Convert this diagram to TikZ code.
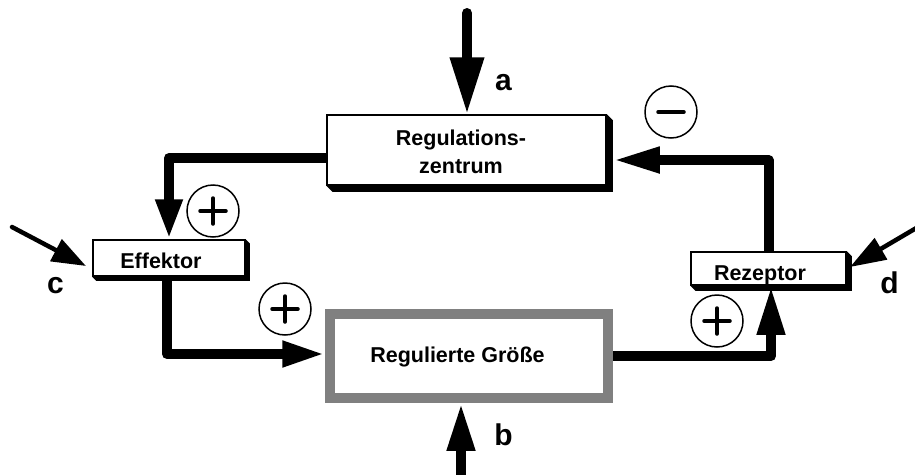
\documentclass[tikz,border=0pt]{standalone}
\usepackage{fontspec}
\setmainfont{Liberation Sans}
\usetikzlibrary{arrows.meta,calc,backgrounds}
\definecolor{rgray}{RGB}{128,128,128}
\begin{document}
\begin{tikzpicture}[x=1pt,y=-1pt,
  box/.style={draw=black, line width=1.5pt, fill=white, inner sep=0pt},
  txt/.style={font=\fontsize{21.5}{27.5}\selectfont\bfseries, inner sep=0pt, align=center},
  lbl/.style={font=\fontsize{30}{30}\selectfont\bfseries, inner sep=0pt, anchor=base},
  conn/.style={line width=10pt, line cap=round, line join=round},
  thinarrow/.style={line width=4.5pt, line cap=round},
  sign/.style={draw, circle, line width=1.5pt, minimum size=52pt, inner sep=0pt},
  bar/.style={line width=3.5pt, line cap=round},
]
\useasboundingbox (0,0) rectangle (915,474);

% boxes
\node[box, minimum width=279pt, minimum height=70pt] (rz) at (466.5,150) {};
\fill (rz.south west) -- ($(rz.south west)+(6,6)$) -- ($(rz.south east)+(6,6)$)
      -- ($(rz.north east)+(6,6)$) -- (rz.north east) -- (rz.south east) -- cycle;
\node[box, minimum width=152pt, minimum height=36pt] (eff) at (169,258) {};
\fill (eff.south west) -- ($(eff.south west)+(4,4)$) -- ($(eff.south east)+(4,4)$)
      -- ($(eff.north east)+(4,4)$) -- (eff.north east) -- (eff.south east) -- cycle;
\node[box, minimum width=155pt, minimum height=33pt] (rez) at (768.5,268.5) {};
\fill (rez.south west) -- ($(rez.south west)+(5,5)$) -- ($(rez.south east)+(5,5)$)
      -- ($(rez.north east)+(5,5)$) -- (rez.north east) -- (rez.south east) -- cycle;
\node[draw=rgray, line width=9.5pt, fill=white, minimum width=278pt, minimum height=84pt, inner sep=0pt] (rg) at (469,356) {};

% texts
\node[txt] (trz) at (461,152) {Regulations-\\zentrum};
\node[txt, anchor=base] (teff) at (161,268) {Effektor};
\node[txt, anchor=base] (trez) at (760,280) {Rezeptor};
\node[txt, anchor=base] (trg) at (457.5,362) {Regulierte Größe};

% labels
\node[lbl] (la) at (503.5,90) {a};
\node[lbl] (lb) at (503.5,445) {b};
\node[lbl] (lc) at (55.5,293) {c};
\node[lbl] (ld) at (889.5,293) {d};

% coordinates for free ends
\coordinate (atop) at (467,13);
\coordinate (bbot) at (461,485);
\coordinate (cstart) at (12,227);
\coordinate (ctip) at (86,266);
\coordinate (dstart) at (918,227);
\coordinate (dtip) at (850,267);

% connectors
\begin{pgfonlayer}{background}
\draw[conn, -{Triangle[length=57pt,width=32pt]}] (atop) -- (atop |- rz.north);
\draw[conn, line cap=butt, -{Triangle[length=48pt,width=26pt]}] (bbot) -- (bbot |- rg.south);
\draw[conn, -{Triangle[length=40pt,width=25pt]}] ([yshift=-8pt]rz.west) -| (eff.north);
\draw[conn, -{Triangle[length=43pt,width=24pt]}] ([xshift=-2pt]eff.south) |- ([yshift=2pt]rg.west);
\draw[conn, -{Triangle[length=49pt,width=26pt]}] (rg.east) -| ([xshift=2.5pt]rez.south);
\draw[conn, -{Triangle[length=47pt,width=24pt]}] (rez.north) |- ([xshift=6pt,yshift=-10pt]rz.east);
\end{pgfonlayer}
\draw[thinarrow, -{Triangle[length=34pt,width=24pt]}] (cstart) -- (ctip);
\draw[thinarrow, -{Triangle[length=36pt,width=24pt]}] (dstart) -- (dtip);

% signs
\node[sign] (m1) at (671,112) {};
\draw[bar] ([xshift=-13pt]m1.center) -- ([xshift=13pt]m1.center);
\node[sign] (p1) at (213,211) {};
\draw[bar] ([xshift=-13pt]p1.center) -- ([xshift=13pt]p1.center);
\draw[bar] ([yshift=-13pt]p1.center) -- ([yshift=13pt]p1.center);
\node[sign] (p2) at (285,309) {};
\draw[bar] ([xshift=-13pt]p2.center) -- ([xshift=13pt]p2.center);
\draw[bar] ([yshift=-13pt]p2.center) -- ([yshift=13pt]p2.center);
\node[sign] (p3) at (717,321) {};
\draw[bar] ([xshift=-13pt]p3.center) -- ([xshift=13pt]p3.center);
\draw[bar] ([yshift=-13pt]p3.center) -- ([yshift=13pt]p3.center);
\end{tikzpicture}
\end{document}
